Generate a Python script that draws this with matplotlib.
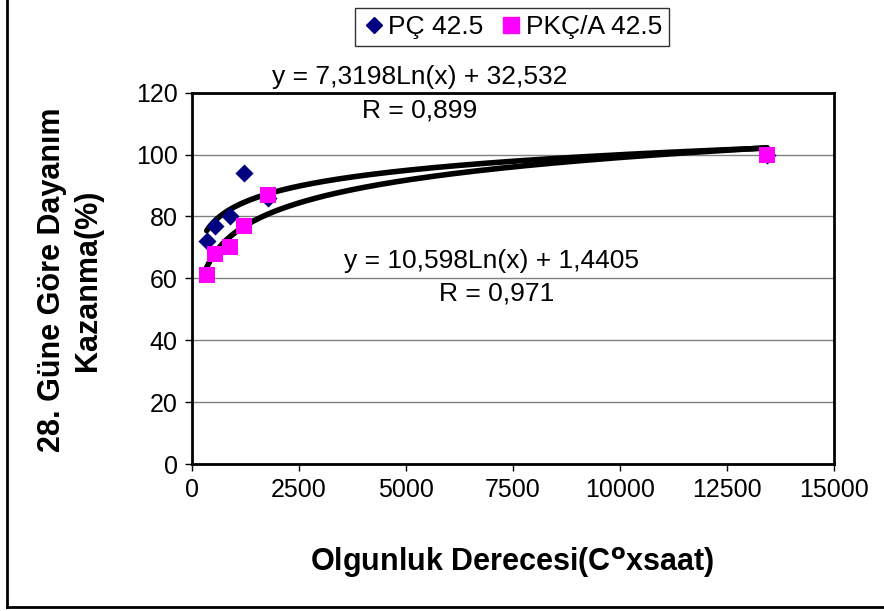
import matplotlib.pyplot as plt
import numpy as np
from matplotlib.lines import Line2D

plt.rcParams['font.family'] = ['Liberation Sans', 'DejaVu Sans']

# olgunluk derecesi (C x saat)
x_pc = [350, 535, 884, 1233, 1790, 13440]
y_pc = [72, 77, 80, 94, 86, 100]
x_pkc = [350, 535, 884, 1233, 1790, 13440]
y_pkc = [61, 68, 70, 77, 87, 100]

fig = plt.figure(figsize=(8.84, 6.11), dpi=100)
W, H = 884.0, 611.0
ax = fig.add_axes([191.7 / W, 1 - 464 / H, (834 - 191.7) / W, (464 - 92.7) / H])

# trend lines (log)
xs = np.linspace(min(x_pc), max(x_pc), 300)
ax.plot(xs, 7.3198 * np.log(xs) + 32.532, color='black', lw=4, solid_capstyle='round', zorder=3)
xs2 = np.linspace(min(x_pkc), max(x_pkc), 300)
ax.plot(xs2, 10.598 * np.log(xs2) + 1.4405, color='black', lw=4, solid_capstyle='round', zorder=3)

ax.scatter(x_pc, y_pc, marker='D', s=85, color='#000080', zorder=4, linewidths=0)
ax.scatter(x_pkc, y_pkc, marker='s', s=130, color='#FF00FF', zorder=5, linewidths=0)

ax.set_xlim(0, 15000)
ax.set_ylim(0, 120)
ax.set_xticks(np.arange(0, 15001, 2500))
ax.set_yticks(np.arange(0, 121, 20))
ax.yaxis.grid(True, color='#808080', lw=1)
ax.set_axisbelow(True)
for s in ax.spines.values():
    s.set_linewidth(2)
    s.set_color('black')
ax.tick_params(labelsize=18, length=5, width=1, direction='out', pad=5)

fig.text(420 / W, 1 - 77 / H, 'y = 7,3198Ln(x) + 32,532', ha='center', va='center', fontsize=19)
fig.text(420 / W, 1 - 110 / H, 'R = 0,899', ha='center', va='center', fontsize=19)
fig.text(492 / W, 1 - 261 / H, 'y = 10,598Ln(x) + 1,4405', ha='center', va='center', fontsize=19)
fig.text(497 / W, 1 - 294 / H, 'R = 0,971', ha='center', va='center', fontsize=19)

fig.text(512 / W, 1 - 563 / H, 'Olgunluk Derecesi(C$^{\\mathbf{o}}$xsaat)', ha='center', va='center',
         fontsize=22, fontweight='bold')
fig.text(70 / W, 1 - 280 / H, '28. Güne Göre Dayanım\nKazanma(%)', ha='center', va='center',
         fontsize=22, fontweight='bold', rotation=90, linespacing=1.3)

handles = [Line2D([], [], marker='D', color='#000080', ls='', markersize=8),
           Line2D([], [], marker='s', color='#FF00FF', ls='', markersize=11)]
leg = fig.legend(handles, ['PÇ 42.5', 'PKÇ/A 42.5'], loc='center', bbox_to_anchor=(512 / W, 1 - 27 / H),
                 ncol=2, fontsize=19, frameon=True, fancybox=False, handletextpad=0.1,
                 columnspacing=0.6, handlelength=0.9, borderpad=0.25)
leg.get_frame().set_edgecolor('black')
leg.get_frame().set_linewidth(1)

# outer chart border
fig.add_artist(Line2D([7 / W, 7 / W], [1 - 607 / H, 1], color='black', lw=2))
fig.add_artist(Line2D([7 / W, 1], [1 - 607 / H, 1 - 607 / H], color='black', lw=2))

fig.savefig('out.png', dpi=100)
